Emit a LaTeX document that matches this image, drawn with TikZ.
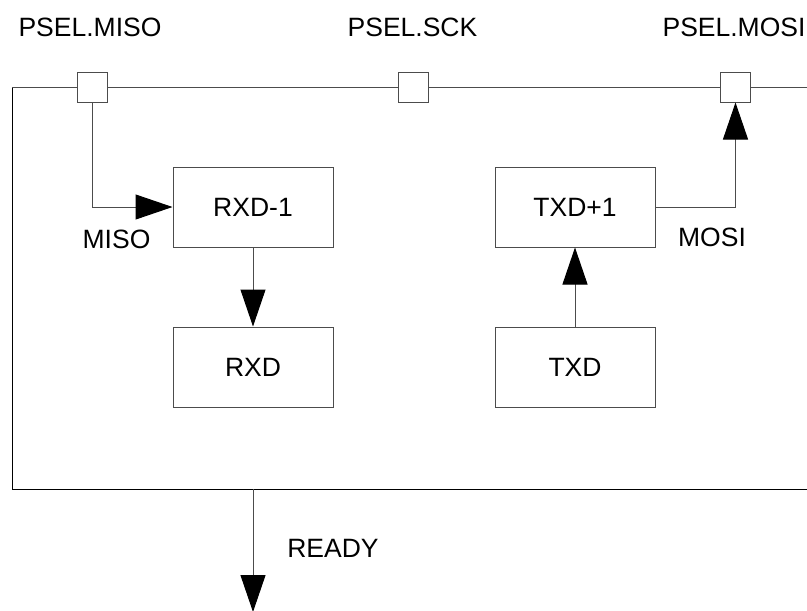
\documentclass[tikz,border=0pt]{standalone}
\usepackage{fontspec}
\setmainfont{Liberation Sans}
\usetikzlibrary{arrows.meta}

\tikzset{
  regbox/.style={draw=black!70,fill=white,line width=1pt,minimum width=160pt,minimum height=80pt,inner sep=0pt},
  portbox/.style={draw=black!70,fill=white,line width=1pt,minimum size=30pt,inner sep=0pt},
  wire/.style={draw=black!70,line width=1pt},
  bigtip/.style={-{Triangle[length=37pt,width=25pt,color=black]}},
  lbl/.style={font=\fontsize{26.5}{30}\selectfont,inner sep=0pt}
}

\begin{document}
\begin{tikzpicture}[x=1pt,y=-1pt]
\useasboundingbox (0,0) rectangle (807,611);
% frame:
\path[draw=black,line width=1pt] (807,489) -- (12,489) -- (12,87);
\path[wire] (12,87) -- (807,87);
% ports:
\node[portbox] (miso) at (92,87) {};
\node[portbox] (sck) at (413,87) {};
\node[portbox] (mosi) at (735.5,87) {};
\node[lbl] (misotxt) at (90,27) {PSEL.MISO};
\node[lbl] (scktxt) at (412.5,27) {PSEL.SCK};
\node[lbl] (mositxt) at (734,27) {PSEL.MOSI};
% registers:
\node[regbox,lbl] (rxda) at (253,207) {RXD-1};
\node[regbox,lbl] (rxd) at (253,367) {RXD};
\node[regbox,lbl] (txda) at (575,207) {TXD+1};
\node[regbox,lbl] (txd) at (575,367) {TXD};
% connections:
\draw[wire,bigtip] (miso.south) |- (rxda.west);
\draw[wire,bigtip] (rxda.south) -- (rxd.north);
\draw[wire,bigtip] (txd.north) -- (txda.south);
\draw[wire,bigtip] (txda.east) -| (mosi.south);
\coordinate (readytop) at (253,489);
\coordinate (readyend) at (253,612);
\draw[wire,bigtip] (readytop) -- (readyend);
\node[lbl] (misolbl) at (116.5,239) {MISO};
\node[lbl] (mosilbl) at (712,237) {MOSI};
\node[lbl] (readylbl) at (333,548) {READY};
\end{tikzpicture}
\end{document}
